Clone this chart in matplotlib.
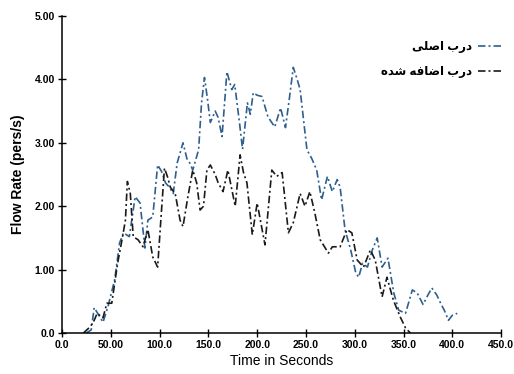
import matplotlib
matplotlib.use("Agg")
import matplotlib.pyplot as plt

# time (s) and flow rate (pers/s)
blue_t = [25, 30, 33, 37, 42, 47, 54, 59, 63, 69, 75, 80, 85, 88, 93, 98,
          102, 106, 110, 114, 118, 124, 128, 131, 134, 140, 143, 146, 149,
          152, 157, 160, 164, 169, 174, 177, 182, 185, 190, 193, 196, 200,
          205, 211, 218, 224, 229, 233, 237, 241, 244, 251, 256, 261, 266,
          272, 277, 282, 285, 290, 296, 301, 304, 308, 313, 318, 323, 328,
          334, 340, 345, 352, 359, 364, 370, 375, 379, 384, 388, 392, 396,
          400, 405]
blue_v = [0.0, 0.05, 0.4, 0.3, 0.17, 0.41, 0.84, 1.42, 1.58, 1.52, 2.15, 2.05,
          1.34, 1.78, 1.83, 2.65, 2.55, 2.37, 2.3, 2.2, 2.68, 3.0, 2.75, 2.68,
          2.57, 2.89, 3.63, 4.03, 3.7, 3.32, 3.5, 3.4, 3.1, 4.12, 3.84, 3.92,
          3.3, 2.9, 3.63, 3.45, 3.79, 3.75, 3.73, 3.41, 3.25, 3.55, 3.24, 3.7,
          4.19, 4.0, 3.84, 2.89, 2.75, 2.57, 2.1, 2.47, 2.23, 2.42, 2.3, 1.63,
          1.3, 0.95, 0.88, 1.1, 1.04, 1.31, 1.5, 1.04, 1.18, 0.63, 0.36, 0.31,
          0.68, 0.63, 0.45, 0.6, 0.71, 0.6, 0.47, 0.35, 0.2, 0.28, 0.31]

black_t = [22, 29, 33, 36, 42, 46, 51, 57, 61.5, 65, 67, 70, 73, 78, 83, 88,
           93, 98, 102, 105, 108, 111, 116, 121, 124, 129, 134, 138, 141.5,
           145, 148.5, 152, 157, 160, 165, 170, 177.5, 182.5, 186, 189.5, 195,
           200, 208, 215, 220, 225.6, 232, 237, 244, 249, 254, 259, 264.6, 273,
           277, 285, 292, 297, 302.5, 309, 316, 321, 328, 333, 339.5, 346.7,
           352, 357]
black_v = [0.0, 0.1, 0.2, 0.31, 0.24, 0.47, 0.47, 1.1, 1.47, 1.78, 2.39, 2.2,
           1.52, 1.47, 1.36, 1.63, 1.2, 1.04, 1.94, 2.6, 2.47, 2.3, 2.2, 1.78,
           1.68, 2.15, 2.57, 2.37, 1.94, 2.0, 2.57, 2.65, 2.5, 2.37, 2.23, 2.57,
           2.0, 2.81, 2.53, 2.37, 1.55, 2.05, 1.39, 2.57, 2.47, 2.53, 1.58, 1.74,
           2.2, 2.0, 2.23, 1.9, 1.47, 1.26, 1.36, 1.36, 1.63, 1.58, 1.15, 1.04,
           1.31, 1.15, 0.57, 0.88, 0.52, 0.25, 0.08, 0.0]

x_ticks = [0, 50, 100, 150, 200, 250, 300, 350, 400, 450]
x_labels = ["0.0", "50.00", "100.0", "150.0", "200.0", "250.0", "300.0",
            "350.0", "400.0", "450.0"]
y_ticks = [0, 1, 2, 3, 4, 5]
y_labels = ["0.0", "1.00", "2.00", "3.00", "4.00", "5.00"]

# Persian labels, pre-shaped and in visual order (matplotlib has no bidi)
lbl_main = "\uFBFD\uFEE0\uFEBB\uFE8D \uFE8F\uFEAD\uFEA9"                     # درب اصلی
lbl_added = "\uFEE9\uFEAA\uFEB7 \uFEEA\uFED3\uFE8E\uFEBF\uFE8D \uFE8F\uFEAD\uFEA9"  # درب اضافه شده

plt.rcParams["font.family"] = ["Liberation Sans", "DejaVu Sans"]

fig = plt.figure(figsize=(5.14, 3.74), dpi=100)
ax = fig.add_axes([0.1206, 0.1096, 0.8544, 0.8476])

ax.plot(blue_t, blue_v, color="#2e5f8e", lw=1.2,
        linestyle=(0, (4.5, 1.8, 1.2, 1.8)), label=lbl_main)
ax.plot(black_t, black_v, color="#1a1a1a", lw=1.2,
        linestyle=(0, (4.5, 1.8, 1.2, 1.8)), label=lbl_added)

ax.set_xlim(0, 450)
ax.set_ylim(0, 5)
ax.set_xticks(x_ticks)
ax.set_xticklabels(x_labels, fontsize=7.5, fontweight="bold")
ax.set_yticks(y_ticks)
ax.set_yticklabels(y_labels, fontsize=7.5, fontweight="bold")
ax.tick_params(direction="inout", length=6, width=1, pad=2)

for s in ("top", "right"):
    ax.spines[s].set_visible(False)
for s in ("left", "bottom"):
    ax.spines[s].set_linewidth(1.1)

ax.set_xlabel("Time in Seconds", fontsize=10, labelpad=3)
ax.set_ylabel("Flow Rate (pers/s)", fontsize=10, fontweight="bold", labelpad=7)

ax.legend(loc="upper right", bbox_to_anchor=(1.025, 0.955), frameon=False,
          markerfirst=False, handlelength=2.0, handletextpad=0.5,
          labelspacing=1.15, prop={"size": 8.5, "weight": "bold"})

fig.savefig("out.png", dpi=100, facecolor="white")
